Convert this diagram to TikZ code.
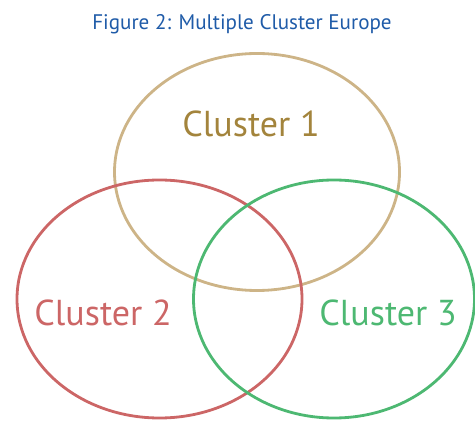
\documentclass[tikz,border=0pt]{standalone}
\usepackage{fontspec}
\setmainfont{PT Sans}
\usepackage{xcolor}
\usetikzlibrary{positioning}
\definecolor{titleblue}{HTML}{1F5BA8}
\definecolor{tanline}{HTML}{CDB487}
\definecolor{tantext}{HTML}{A3843C}
\definecolor{redline}{HTML}{CC6666}
\definecolor{greenline}{HTML}{4DB872}

\tikzset{
  ring/.style={draw, line width=1.6pt},
  clabel/.style={font=\fontsize{20.5pt}{24pt}\selectfont, anchor=base, inner sep=0pt}
}

\begin{document}
\begin{tikzpicture}[x=0.02cm, y=-0.02cm]
  \useasboundingbox (0,0) rectangle (475,421);
  \node[font=\fontsize{12pt}{14pt}\selectfont, text=titleblue, anchor=base, inner sep=0pt] (title) at (242,30) {Figure 2: Multiple Cluster Europe};

  % the three overlapping clusters
  \draw[ring, tanline] (257,172) ellipse [x radius=142.5, y radius=118.5];
  \draw[ring, redline] (159.5,299) ellipse [x radius=142.5, y radius=119];
  \draw[ring, greenline] (334,299) ellipse [x radius=140.5, y radius=119];

  \node[clabel, text=tantext] (l1) at (251,137) {Cluster 1};
  \node[clabel, text=redline] (l2) at (103,325) {Cluster 2};
  \node[clabel, text=greenline] (l3) at (388,325) {Cluster 3};
\end{tikzpicture}
\end{document}
